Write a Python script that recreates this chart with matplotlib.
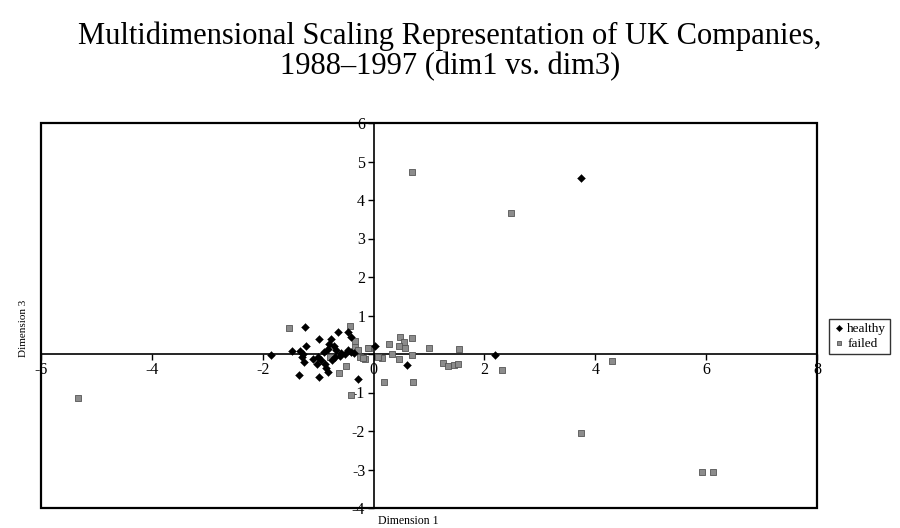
import matplotlib
matplotlib.use("Agg")
import matplotlib.pyplot as plt
from matplotlib.patches import Rectangle
from matplotlib.ticker import FuncFormatter

plt.rcParams['font.family'] = ['Liberation Serif', 'DejaVu Serif']

# healthy companies (dim1, dim3)
healthy_x = [3.74, 2.19, 0.60, 0.02, -1.24, -0.64, -0.47, -0.40, -0.99, -0.77,
             -1.22, -0.80, -0.82, -1.48, -1.32, -1.27, -0.67, -0.58, -0.46, -0.40,
             -1.29, -1.25, -1.00, -0.94, -1.02, -0.88, -0.85, -0.82, -0.70, -0.60,
             -0.52, -1.34, -0.98, -0.28, -1.85, -0.90, -0.75, -0.35, -1.10, -0.72]
healthy_y = [4.56, -0.02, -0.29, 0.22, 0.69, 0.58, 0.58, 0.45, 0.38, 0.38,
             0.22, 0.25, 0.13, 0.09, 0.09, 0.00, 0.10, 0.02, 0.10, 0.06,
             -0.09, -0.20, -0.07, -0.16, -0.27, -0.27, -0.37, -0.46, -0.07, -0.04,
             -0.01, -0.55, -0.61, -0.66, -0.03, 0.05, -0.15, 0.02, -0.12, 0.20]

# failed companies (dim1, dim3)
failed_x = [-5.34, 0.69, 2.48, 3.74, 5.93, 6.12, 4.30, 2.31, 1.54, 1.25,
            1.35, 1.45, 1.52, 0.48, 0.55, 0.70, 0.27, 0.45, 0.57, 1.00,
            0.69, 0.46, 0.33, 0.16, 0.08, -0.08, -0.15, 0.19, 0.72, -0.40,
            -1.52, -0.43, -0.34, -0.28, -0.10, -0.79, -0.62, -0.50, -0.25, -0.19,
            -0.34]
failed_y = [-1.14, 4.73, 3.66, -2.05, -3.06, -3.06, -0.18, -0.42, 0.13, -0.24,
            -0.30, -0.28, -0.26, 0.45, 0.32, 0.42, 0.25, 0.22, 0.15, 0.15,
            -0.03, -0.13, 0.00, -0.10, -0.07, 0.15, -0.13, -0.74, -0.74, -1.06,
            0.67, 0.73, 0.19, 0.10, 0.15, -0.07, -0.50, -0.30, -0.07, -0.11,
            0.34]

x_ticks = [-6, -4, -2, 0, 2, 4, 6, 8]
y_ticks = [-4, -3, -2, -1, 0, 1, 2, 3, 4, 5, 6]

fig = plt.figure(figsize=(9, 5.28), dpi=100)
ax = fig.add_axes([41/900, 1 - 508/528, (817 - 41)/900, (508 - 123)/528])

ax.scatter(failed_x, failed_y, marker='s', s=14, c='#8c8c8c',
           edgecolors='#555555', linewidths=0.6, label='failed', zorder=3)
ax.scatter(healthy_x, healthy_y, marker='D', s=16, c='black',
           edgecolors='black', linewidths=0.3, label='healthy', zorder=4)

ax.set_xlim(-6, 8)
ax.set_ylim(-4, 6)
ax.spines['left'].set_position(('data', 0))
ax.spines['bottom'].set_position(('data', 0))
ax.spines['top'].set_visible(False)
ax.spines['right'].set_visible(False)
ax.spines['left'].set_linewidth(1.2)
ax.spines['bottom'].set_linewidth(1.2)
ax.add_patch(Rectangle((0, 0), 1, 1, transform=ax.transAxes, fill=False,
                       lw=1.6, edgecolor='black', clip_on=False, zorder=5))

ax.set_xticks(x_ticks)
ax.set_yticks(y_ticks)
ax.xaxis.set_major_formatter(FuncFormatter(lambda v, p: f"{v:g}"))
ax.yaxis.set_major_formatter(FuncFormatter(lambda v, p: "" if v == 0 else f"{v:g}"))
ax.tick_params(direction='out', length=4, width=1, labelsize=11.5, pad=2)

handles, labels = ax.get_legend_handles_labels()
leg = fig.legend(handles[::-1], labels[::-1], loc='upper left',
                 bbox_to_anchor=(822/900, 1 - 312/528), frameon=True,
                 fancybox=False, edgecolor='black', fontsize=9.5,
                 handletextpad=0.1, borderpad=0.3, labelspacing=0.2,
                 handlelength=1.0, markerscale=0.8)
leg.get_frame().set_linewidth(1.0)

fig.text(0.5, 1 - 36/528, "Multidimensional Scaling Representation of UK Companies,",
         ha='center', va='center', fontsize=22)
fig.text(0.5, 1 - 67/528, "1988\u20131997 (dim1 vs. dim3)",
         ha='center', va='center', fontsize=22)
fig.text(24/900, 1 - 328/528, "Dimension 3", rotation=90, ha='center',
         va='center', fontsize=8)
fig.text(408/900, 1 - 521/528, "Dimension 1", ha='center', va='center',
         fontsize=8.5)

fig.savefig("out.png", dpi=100, facecolor='white')
